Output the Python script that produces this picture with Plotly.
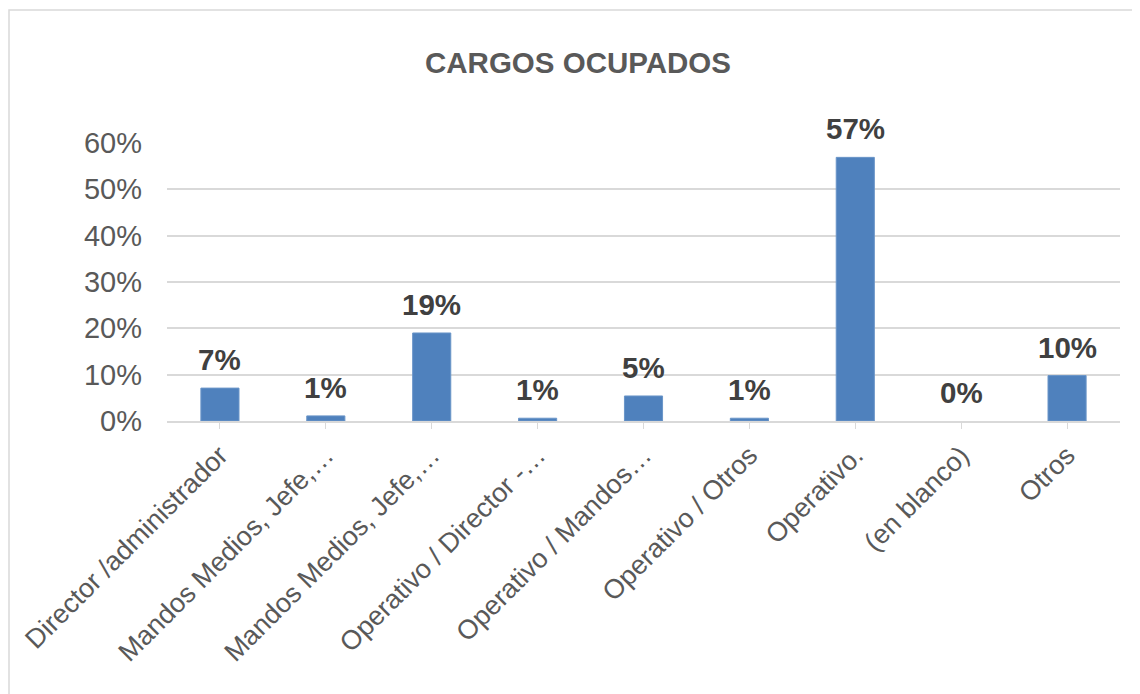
import plotly.graph_objects as go

categories = [
    "Director /administrador",
    "Mandos Medios, Jefe,…",
    "Mandos Medios, Jefe,…",
    "Operativo / Director -…",
    "Operativo / Mandos…",
    "Operativo / Otros",
    "Operativo.",
    "(en blanco)",
    "Otros",
]
values = [0.071, 0.011, 0.190, 0.006, 0.054, 0.006, 0.569, 0.0, 0.098]
yticks = [0, 0.1, 0.2, 0.3, 0.4, 0.5, 0.6]
title_text = "CARGOS OCUPADOS"

x_ids = list(range(len(categories)))

OFF = 8  # page body margin
W, H = 1140 - OFF, 694 - OFF
ml, mr, mt, mb = 167 - OFF, 20, 143 - OFF, 694 - 421
pw = W - ml - mr
ph = H - mt - mb
font_family = "Liberation Sans, Arial"

fig = go.Figure()
fig.add_trace(go.Bar(
    x=x_ids, y=values,
    marker=dict(color="#4F81BD",
                line=dict(color="#6A95C8", width=[1 if v > 0 else 0 for v in values])),
    width=0.36,
    hoverinfo="skip",
))

annotations = []
for xi, v in zip(x_ids, values):
    annotations.append(dict(
        x=xi, y=v, xref="x", yref="y",
        text=f"<b>{round(v*100):.0f}%</b>",
        showarrow=False, yanchor="bottom", yshift=10,
        font=dict(family=font_family, size=29.5, color="#404040"),
    ))

fig.update_layout(
    width=W, height=H,
    margin=dict(l=ml, r=mr, t=mt, b=mb),
    paper_bgcolor="white", plot_bgcolor="white",
    showlegend=False,
    title=dict(text=f"<b>{title_text}</b>", x=(578 - OFF) / W, xanchor="center",
               y=1 - (63 - OFF) / H, yanchor="middle", yref="container",
               font=dict(family=font_family, size=29.5, color="#595959")),
    annotations=annotations,
    xaxis=dict(
        tickmode="array", tickvals=x_ids, ticktext=categories,
        range=[-0.5, len(categories) - 0.5],
        tickangle=-45,
        showline=True, linecolor="#D9D9D9", linewidth=1.5,
        ticks="outside", tickson="boundaries", ticklen=6, tickcolor="#D9D9D9",
        showgrid=False,
        tickfont=dict(family=font_family, size=27, color="#595959"),
    ),
    yaxis=dict(
        range=[0, 0.6], tickvals=yticks, tickformat=".0%",
        showgrid=True, gridcolor="#D9D9D9", gridwidth=1.5,
        zeroline=False, showline=False, ticks="",
        tickfont=dict(family=font_family, size=29, color="#595959"),
        ticklabelstandoff=24,
    ),
    shapes=[dict(
        type="rect", xref="paper", yref="paper",
        x0=(9 - OFF - ml) / pw, x1=(W + 20 - ml) / pw,
        y0=(H - mb - (H + 20)) / ph, y1=(H - mb - (10 - OFF)) / ph,
        line=dict(color="#D9D9D9", width=1.5), fillcolor="rgba(0,0,0,0)",
        layer="below",
    )],
)

fig.write_html("out.html")
